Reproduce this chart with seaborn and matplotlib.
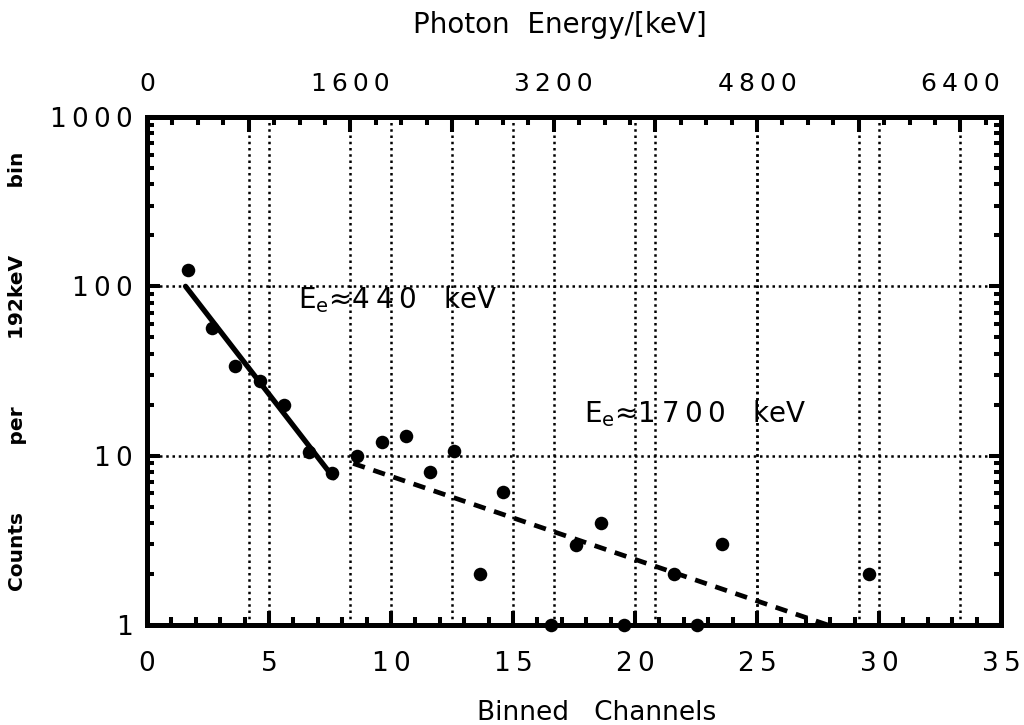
import matplotlib
matplotlib.use("Agg")
import matplotlib.pyplot as plt
import matplotlib.ticker as mticker
import seaborn as sns

# Measured spectrum: binned channel vs. counts per 192 keV bin
channels = [1.7, 2.65, 3.6, 4.65, 5.6, 6.65, 7.6, 8.6, 9.65, 10.6, 11.6,
            12.6, 13.65, 14.6, 16.55, 17.6, 18.6, 19.55, 21.6, 22.55,
            23.55, 29.6]
counts = [125, 57, 34, 27.5, 20, 10.5, 7.9, 10, 12, 13, 8,
          10.7, 2.0, 6.1, 1, 2.95, 4.0, 1, 2.0, 1,
          3.0, 2.0]

# Exponential fits (straight on the log axis), given by their end points
soft_fit_x = [1.58, 7.65]
soft_fit_y = [100, 7.4]
hard_fit_x = [8.45, 27.9]
hard_fit_y = [9.0, 1.0]

kev_per_channel = 192

bottom_ticks = [0, 5, 10, 15, 20, 25, 30, 35]
bottom_labels = ["0", "5", "10", "15", "20", "25", "30", "35"]
top_ticks = [0, 800, 1600, 2400, 3200, 4000, 4800, 5600, 6400]
top_labels = ["0", "", "1600", "", "3200", "", "4800", "", "6400"]
y_ticks = [1, 10, 100, 1000]
y_labels = ["1", "10", "100", "1000"]

soft_energy = "440"
hard_energy = "1700"
y_words = ["Counts", "per", "192keV", "bin"]


def spaced(text):
    """Open up the letter spacing of a short label."""
    return "\u2009".join(text)


def fit_label(energy):
    return "$\\mathregular{E_e}$\u2248" + spaced(energy) + "\u2003keV"


sns.set_theme(style="white")
plt.rcParams["font.family"] = ["DejaVu Sans"]
plt.rcParams["mathtext.fontset"] = "dejavusans"
for key in ("text.color", "axes.labelcolor", "xtick.color", "ytick.color",
            "axes.edgecolor"):
    plt.rcParams[key] = "black"

fig = plt.figure(figsize=(10.24, 7.25), dpi=100)
ax = fig.add_axes([147 / 1024, 1 - 625 / 725, (1001 - 147) / 1024, (625 - 117) / 725])
ax.set_yscale("log")
ax.set_xlim(0, 35)
ax.set_ylim(1, 1000)

dot = (0, (1.0, 1.5))
grid_kw = dict(color="black", linestyle=dot, linewidth=1.8, zorder=1)

# dotted grid on channel and energy major ticks plus the decades
for c in bottom_ticks[1:-1]:
    ax.axvline(c, **grid_kw)
for e in top_ticks[1:]:
    ax.axvline(e / kev_per_channel, **grid_kw)
for v in y_ticks[1:-1]:
    ax.axhline(v, **grid_kw)

sns.lineplot(x=soft_fit_x, y=soft_fit_y, ax=ax, color="black",
             linewidth=3.8, estimator=None, zorder=4)
sns.lineplot(x=hard_fit_x, y=hard_fit_y, ax=ax, color="black",
             linewidth=3.4, linestyle=(0, (2.6, 1.9)), estimator=None,
             zorder=4)
sns.scatterplot(x=channels, y=counts, ax=ax, color="black", s=95,
                linewidth=0, zorder=5, clip_on=False)

ax.text(6.2, 74, fit_label(soft_energy), fontsize=20, va="baseline",
        ha="left", zorder=6)
ax.text(17.9, 15.8, fit_label(hard_energy), fontsize=20, va="baseline",
        ha="left", zorder=6)

# bottom / left / right axes
ax.set_xticks(bottom_ticks, [spaced(s) for s in bottom_labels])
ax.xaxis.set_minor_locator(mticker.MultipleLocator(1))
ax.set_yticks(y_ticks, [spaced(s) for s in y_labels])
ax.yaxis.set_minor_locator(mticker.LogLocator(base=10, subs=range(2, 10)))
ax.yaxis.set_minor_formatter(mticker.NullFormatter())
ax.tick_params(which="both", direction="in", top=False, right=True,
               bottom=True, left=True, width=2.9, color="black",
               labelsize=19, labelcolor="black")
ax.tick_params(axis="x", which="major", length=10, pad=19)
ax.tick_params(axis="x", which="minor", length=5.5)
ax.tick_params(axis="y", which="major", length=9, pad=10)
ax.tick_params(axis="y", which="minor", length=5)

for s in ax.spines.values():
    s.set_linewidth(3.6)
    s.set_color("black")

# top axis: photon energy
secax = ax.secondary_xaxis("top", functions=(lambda c: c * kev_per_channel,
                                             lambda e: e / kev_per_channel))
secax.set_xticks(top_ticks, [spaced(s) for s in top_labels])
secax.xaxis.set_minor_locator(mticker.MultipleLocator(200))
secax.tick_params(which="both", direction="in", width=2.9, color="black",
                  labelsize=18, labelcolor="black")
secax.tick_params(which="major", length=11, pad=15)
secax.tick_params(which="minor", length=6)
secax.spines["top"].set_linewidth(3.6)

ax.set_xlabel("Binned   Channels", fontsize=19)
ax.xaxis.set_label_coords(0.526, -0.148)
ax.set_ylabel("\u2003\u2003\u2003 ".join(y_words), fontsize=14.5,
              fontweight="bold")
ax.yaxis.set_label_coords(-0.141, 0.5)

fig.text(560 / 1024, 1 - 25 / 725, "Photon  Energy/[keV]", fontsize=20,
         ha="center", va="center")

fig.savefig("out.png", dpi=100, facecolor="white")
